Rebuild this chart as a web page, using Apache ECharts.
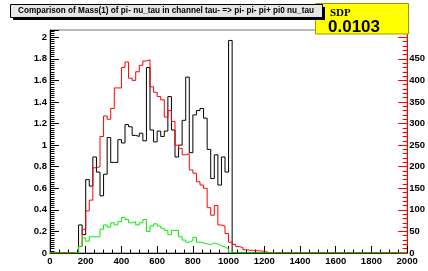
<!DOCTYPE html>
<html><head><meta charset="utf-8">
<script src="https://cdn.jsdelivr.net/npm/echarts@6/dist/echarts.min.js"></script>
<style>html,body{margin:0;padding:0;background:#fff}#c{width:428px;height:271px}</style>
</head><body><div id="c"></div>
<script>
// Histogram: 100 bins of width 20 from 0 to 2000
const binWidth = 20;
const xMin = 0, xMax = 2000;
const leftMax = 2.067;      // left axis top
const rightScale = 250;     // right axis = left * 250
const black = [0,0,0,0,0,0,0,0,0.26,0.17, 0.68,0.62,0.89,0.75,0.53,0.73,1.07,0.84,0.84,1.05,
  1.02,1.19,1.17,1.09,1.08,1.11,1.04,1.72,1.14,1.03, 1.13,1.08,1.13,1.45,1.14,0.89,1.00,1.23,1.63,0.93,
  1.28,1.32,1.34,1.25,0.96,0.69,0.91,0.63,0.89,0.75, 1.97,0,0,0,0,0,0,0,0,0,
  0,0,0,0,0,0,0,0,0,0, 0,0,0,0,0,0,0,0,0,0, 0,0,0,0,0,0,0,0,0,0, 0,0,0,0,0,0,0,0,0,0];
const red = [0,0,0,0,0,0,0,0,0.06,0.22, 0.39,0.49,0.79,0.80,1.08,1.27,1.24,1.34,1.53,1.53,
  1.72,1.77,1.62,1.60,1.68,1.74,1.78,1.79,1.54,1.49, 1.45,1.42,1.26,1.32,1.22,1.00,0.97,0.91,0.92,0.77,
  0.74,0.66,0.63,0.60,0.42,0.35,0.44,0.26,0.25,0.18, 0.10,0.08,0.06,0.05,0.03,0.025,0.025,0.02,0.02,0.015,
  0.007,0,0,0,0,0,0,0,0,0, 0,0,0,0,0,0,0,0,0,0, 0,0,0,0,0,0,0,0,0,0, 0,0,0,0,0,0,0,0,0,0];
const green = [0,0,0,0,0,0,0,0,0.06,0.14, 0.11,0.15,0.15,0.15,0.22,0.26,0.24,0.28,0.26,0.29,
  0.33,0.31,0.28,0.29,0.26,0.28,0.31,0.20,0.25,0.27, 0.25,0.23,0.21,0.17,0.21,0.21,0.15,0.12,0.10,0.115,
  0.145,0.10,0.093,0.084,0.078,0.093,0.084,0.068,0.056,0.038, 0.006,0,0,0,0,0,0,0,0,0,
  0,0,0,0,0,0,0,0,0,0, 0,0,0,0,0,0,0,0,0,0, 0,0,0,0,0,0,0,0,0,0, 0,0,0,0,0,0,0,0,0,0];
const titleText = 'Comparison of Mass(1) of pi- nu_tau in channel tau- => pi- pi- pi+ pi0 nu_tau';
const statLabel = 'SDP';
const statValue = '0.0103';

function toSteps(vals){
  const pts = vals.map((v,i)=>[xMin + i*binWidth, v]);
  pts.push([xMin + vals.length*binWidth, vals[vals.length-1]]);
  return pts;
}
const lab = {color:'#000', fontWeight:'bold', fontSize:9.5, fontFamily:'Liberation Sans'};
const chart = echarts.init(document.getElementById('c'), null, {renderer:'canvas'});
function mk(name, vals, color){
  return {name, type:'line', step:'end', data:toSteps(vals), showSymbol:false, symbol:'none',
    lineStyle:{color, width:1}, itemStyle:{color}, animation:false, silent:true};
}
chart.setOption({
  animation:false,
  backgroundColor:'#fff',
  grid:{left:50, top:30, width:359, height:223, show:true, borderColor:'#777', borderWidth:1, backgroundColor:'#fff'},
  xAxis:{type:'value', min:xMin, max:xMax, interval:200,
    axisLine:{show:true, onZero:false, lineStyle:{color:'#000', width:1}},
    axisTick:{show:true, inside:true, length:7, lineStyle:{color:'#000'}},
    minorTick:{show:true, splitNumber:4, length:3.5, lineStyle:{color:'#000'}},
    splitLine:{show:false},
    axisLabel:Object.assign({margin:3, formatter:v=>String(v)}, lab)},
  yAxis:[
    {type:'value', min:0, max:leftMax, interval:0.2, position:'left',
     axisLine:{show:true, lineStyle:{color:'#000'}},
     axisTick:{show:true, inside:true, length:9, lineStyle:{color:'#000'}},
     minorTick:{show:true, splitNumber:10, length:4.5, lineStyle:{color:'#000'}},
     splitLine:{show:false},
     axisLabel:Object.assign({margin:3, showMaxLabel:false}, lab)},
    {type:'value', min:0, max:leftMax*rightScale, interval:50, position:'right',
     axisLine:{show:true, lineStyle:{color:'#ff0000'}},
     axisTick:{show:true, inside:true, length:9, lineStyle:{color:'#ff0000'}},
     minorTick:{show:true, splitNumber:5, length:4.5, lineStyle:{color:'#ff0000'}},
     splitLine:{show:false},
     axisLabel:Object.assign({margin:2, showMaxLabel:false, formatter:v=> v>=500 ? '' : String(v)}, lab)}
  ],
  series:[mk('ref', black, '#000000'), mk('new', red, '#ff0000'), mk('diff', green, '#00ee00')],
  graphic:[
    {type:'rect', shape:{x:315.5, y:3.5, width:93, height:30.5}, style:{fill:'#ffff00', stroke:'#999900', lineWidth:1}, z:10},
    {type:'text', x:330, y:13, z:11, style:{text:statLabel, fill:'#000', font:'bold 11px "Liberation Serif"', align:'left', verticalAlign:'middle'}},
    {type:'text', x:328, y:27, z:11, style:{text:statValue, fill:'#000', font:'bold 17px "Liberation Sans"', align:'left', verticalAlign:'middle'}},
    {type:'rect', z:12, shape:{x:13, y:7, width:312, height:13}, style:{fill:'#000'}},
    {type:'rect', z:13, shape:{x:10.5, y:4.5, width:312, height:13}, style:{fill:'#e6e6e6', stroke:'#000', lineWidth:1}},
    {type:'text', z:14, x:166, y:11, style:{text:titleText, fill:'#000', font:'bold 8.2px "Liberation Sans"', align:'center', verticalAlign:'middle'}}
  ]
});
</script></body></html>
